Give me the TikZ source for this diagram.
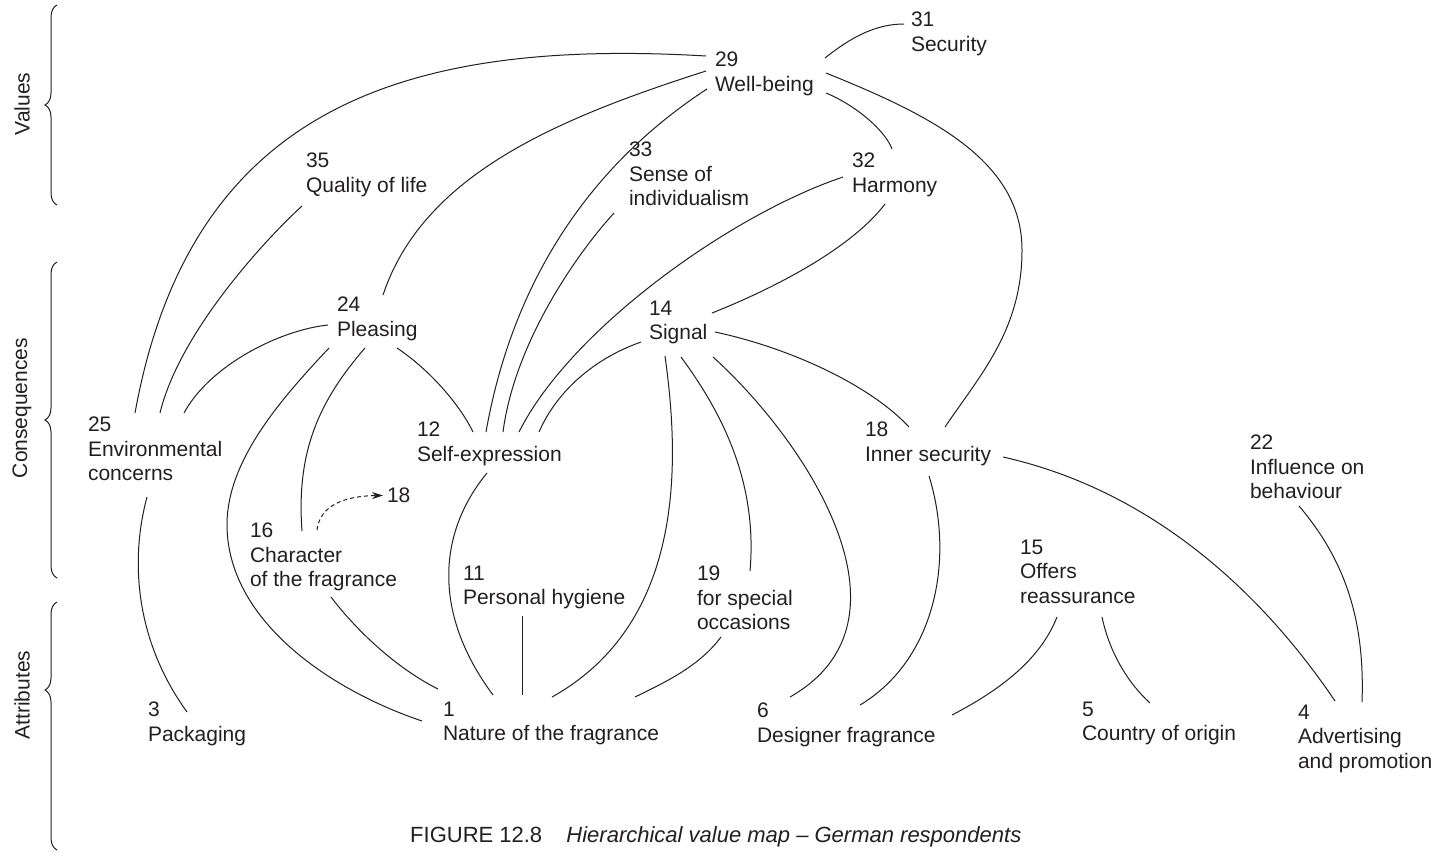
\documentclass[tikz,border=0pt]{standalone}
\usepackage{fontspec}
\setmainfont{Liberation Sans}
\usetikzlibrary{decorations.pathreplacing,arrows.meta}
\definecolor{ink}{HTML}{231F20}
\begin{document}
\begin{tikzpicture}[x=1pt,y=-1pt,
  lbl/.style={anchor=north west, inner sep=0pt, outer sep=0pt, align=left,
              font=\fontsize{21}{24.5}\selectfont, text=ink},
  side/.style={rotate=90, inner sep=0pt, font=\fontsize{21}{24.5}\selectfont, text=ink},
  link/.style={draw=ink, line width=1pt},
  brc/.style={draw=ink, line width=1pt, decorate},
  hint/.style={draw=ink, line width=1pt, dash pattern=on 4pt off 3pt,
               -{Stealth[length=11pt,width=7pt]}}]
\fill[white] (0,0) rectangle (1450,852);
\useasboundingbox (0,0) rectangle (1450,852);

% level braces and their labels
\draw[brc, decoration={brace,amplitude=12pt,aspect=0.5}] (57,205) -- (57,5);
\draw[brc, decoration={brace,amplitude=12pt,aspect=0.5}] (57,578) -- (57,262);
\draw[brc, decoration={brace,amplitude=12pt,aspect=0.645}] (57,850) -- (57,602);
\node[side] (lv) at (22,104) {Values};
\node[side] (lc) at (22,408) {Consequences};
\node[side] (la) at (22,695) {Attributes};

% values
\node[lbl] (n31) at (911,12) {31\\Security};
\node[lbl] (n29) at (715,52) {29\\Well-being};
\node[lbl] (n35) at (306,153) {35\\Quality of life};
\node[lbl] (n33) at (629,142) {33\\Sense of\\individualism};
\node[lbl] (n32) at (852,153) {32\\Harmony};
% consequences
\node[lbl] (n24) at (337,297) {24\\Pleasing};
\node[lbl] (n14) at (649,301) {14\\Signal};
\node[lbl] (n25) at (88,417) {25\\Environmental\\concerns};
\node[lbl] (n12) at (417,422) {12\\Self-expression};
\node[lbl] (n18) at (865,422) {18\\Inner security};
\node[lbl] (n22) at (1250,435) {22\\Influence on\\behaviour};
\node[lbl] (n16) at (250,523) {16\\Character\\of the fragrance};
\node[lbl] (n11) at (463,566) {11\\Personal hygiene};
\node[lbl] (n19) at (697,566) {19\\for special\\occasions};
\node[lbl] (n15) at (1020,540) {15\\Offers\\reassurance};
\node[lbl] (n18b) at (387,488) {18};
% attributes
\node[lbl] (n3) at (148,702) {3\\Packaging};
\node[lbl] (n1) at (443,702) {1\\Nature of the fragrance};
\node[lbl] (n6) at (757,703) {6\\Designer fragrance};
\node[lbl] (n5) at (1082,702) {5\\Country of origin};
\node[lbl] (n4) at (1298,705) {4\\Advertising\\and promotion};

% links from Well-being
\draw[link] ([shift={(-9,4)}]n29.north west) .. controls (400,38) and (190,110) .. ([shift={(47,-4)}]n25.north west);
\draw[link] ([shift={(-9,19)}]n29.north west) .. controls (556,119) and (423,175) .. ([shift={(46,-2)}]n24.north west);
\draw[link] ([shift={(-8,37)}]n29.north west) .. controls (607,154) and (516,262) .. ([shift={(69,10)}]n12.north west);
\draw[link] ([shift={(110,6)}]n29.north west) .. controls (850,38) and (875,24) .. ([shift={(-7,12)}]n31.north west);
\draw[link] ([shift={(111,21)}]n29.north west) .. controls (930,115) and (1022,160) .. (1022,250)
            .. controls (1022,330) and (980,375) .. ([shift={(80,5)}]n18.north west);
\draw[link] ([shift={(111,41)}]n29.north west) .. controls (855,105) and (885,130) .. ([shift={(40,-4)}]n32.north west);

% other value links
\draw[link] ([shift={(-4,53)}]n35.north west) .. controls (270,235) and (180,330) .. ([shift={(72,-4)}]n25.north west);
\draw[link] ([shift={(-15,71)}]n33.north west) .. controls (580,250) and (515,340) .. ([shift={(86,10)}]n12.north west);
\draw[link] ([shift={(-9,24)}]n32.north west) .. controls (730,215) and (570,330) .. ([shift={(102,10)}]n12.north west);
\draw[link] ([shift={(33,51)}]n32.north west) .. controls (850,250) and (770,290) .. ([shift={(63,12)}]n14.north west);

% links from Pleasing
\draw[link] ([shift={(-9,28)}]n24.north west) .. controls (280,330) and (210,365) .. ([shift={(96,-4)}]n25.north west);
\draw[link] ([shift={(-8,51)}]n24.north west) .. controls (280,400) and (228,460) .. (227,523)
            .. controls (226,620) and (330,690) .. ([shift={(-21,19)}]n1.north west);
\draw[link] ([shift={(28,51)}]n24.north west) .. controls (320,400) and (296,450) .. ([shift={(52,8)}]n16.north west);
\draw[link] ([shift={(60,51)}]n24.north west) .. controls (430,370) and (460,405) .. ([shift={(56,10)}]n12.north west);

% links from Signal
\draw[link] ([shift={(-8,41)}]n14.north west) .. controls (590,360) and (555,395) .. ([shift={(122,10)}]n12.north west);
\draw[link] ([shift={(66,31)}]n14.north west) .. controls (790,348) and (870,385) .. ([shift={(44,5)}]n18.north west);
\draw[link] ([shift={(16,55)}]n14.north west) .. controls (678,450) and (690,620) .. ([shift={(109,-5)}]n1.north west);
\draw[link] ([shift={(32,56)}]n14.north west) .. controls (720,410) and (758,480) .. ([shift={(53,5)}]n19.north west);
\draw[link] ([shift={(64,56)}]n14.north west) .. controls (805,440) and (925,620) .. ([shift={(33,-6)}]n6.north west);

% links from Inner security
\draw[link] ([shift={(64,54)}]n18.north west) .. controls (955,560) and (935,660) .. ([shift={(103,2)}]n6.north west);
\draw[link] ([shift={(138,35)}]n18.north west) .. controls (1150,490) and (1260,590) .. ([shift={(37,-4)}]n4.north west);

% remaining consequence links
\draw[link] ([shift={(37,77)}]n15.north west) .. controls (1040,660) and (1000,690) .. ([shift={(195,12)}]n6.north west);
\draw[link] ([shift={(82,77)}]n15.north west) .. controls (1110,655) and (1130,685) .. ([shift={(68,1)}]n5.north west);
\draw[link] ([shift={(49,71)}]n22.north west) .. controls (1345,560) and (1365,620) .. ([shift={(64,-3)}]n4.north west);
\draw[link] ([shift={(24,71)}]n19.north west) .. controls (700,665) and (670,680) .. ([shift={(192,-5)}]n1.north west);
\draw[link] ([shift={(59,50)}]n11.north west) -- ([shift={(79,-7)}]n1.north west);
\draw[link] ([shift={(70,51)}]n12.north west) .. controls (440,530) and (430,610) .. ([shift={(50,-7)}]n1.north west);
\draw[link] ([shift={(81,74)}]n16.north west) .. controls (360,635) and (400,670) .. ([shift={(-5,-13)}]n1.north west);
\draw[link] ([shift={(59,80)}]n25.north west) .. controls (130,560) and (135,640) .. ([shift={(39,10)}]n3.north west);
\draw[hint] ([shift={(67,7)}]n16.north west) .. controls (320,505) and (345,496) .. ([xshift=-4pt]n18b.west);

% caption
\node[anchor=base west, inner sep=0pt, font=\fontsize{22}{26}\selectfont, text=ink] (cap) at (410,842)
  {FIGURE 12.8\hspace{1.1em}\textit{Hierarchical value map – German respondents}};
\end{tikzpicture}
\end{document}
